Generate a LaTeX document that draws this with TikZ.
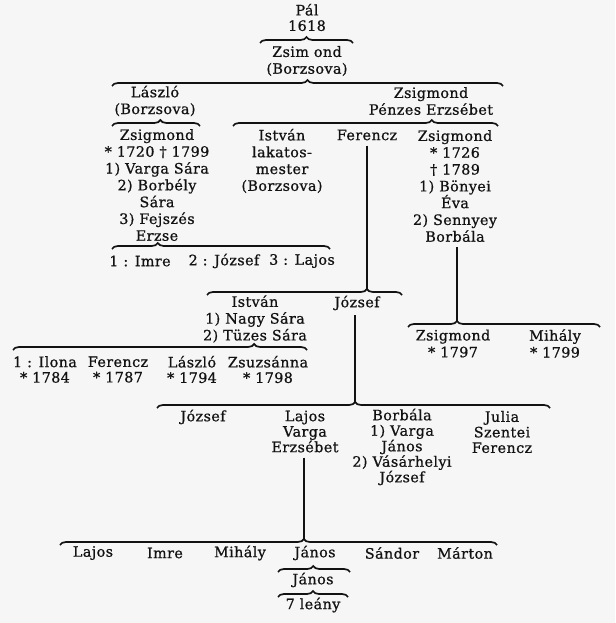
\documentclass[tikz,border=0pt]{standalone}
\usepackage{fontspec}
\setmainfont{DejaVu Serif}
\newfontfamily\oldtype{DejaVu Serif}[FakeBold=0.8,LetterSpace=3]
\usetikzlibrary{decorations.pathreplacing}
\definecolor{paper}{RGB}{246,246,246}
\definecolor{ink}{RGB}{18,18,18}
\begin{document}
\begin{tikzpicture}[x=1pt,y=-1pt,
  txt/.style={inner sep=0pt, align=center, font=\oldtype\fontsize{14.3}{15.5}\selectfont, text=ink},
  wide/.style={font=\oldtype\fontsize{14.3}{16.8}\selectfont},
  br/.style={draw=ink, line width=1.7pt, decorate, decoration={brace, amplitude=6pt, aspect=#1}},
  br/.default=0.5,
  stem/.style={draw=ink, line width=1.8pt, shorten <=5pt}]
\fill[paper] (0,0) rectangle (615,623);
\useasboundingbox (0,0) rectangle (615,623);

% top
\node[txt] (pal) at (307,17.5) {Pál\\1618};
\draw[br] (260,43) -- (353,43);
\node[txt,wide] (zsim) at (307,61) {Zsim ond\\(Borzsova)};
\draw[br] (112,86) -- (503,86);
\node[txt,wide] (laszlo) at (155,101) {László\\(Borzsova)};
\node[txt,wide] (zsig1) at (431,101) {Zsigmond\\Pénzes Erzsébet};

% second level
\draw[br=0.55] (112,126) -- (200,126);
\draw[br=0.75] (233,126) -- (498,126);
\node[txt,wide] (zsig2) at (157,185) {Zsigmond\\* 1720 † 1799\\1) Varga Sára\\2) Borbély\\Sára\\3) Fejszés\\Erzse};
\node[txt,wide] (istvan1) at (282,161) {István\\lakatos-\\mester\\(Borzsova)};
\node[txt] (ferencz1) at (367,135) {Ferencz};
\node[txt,wide] (zsig3) at (455,186) {Zsigmond\\* 1726\\† 1789\\1) Bönyei\\Éva\\2) Sennyey\\Borbála};

\draw[br=0.21] (112,249) -- (330,249);
\node[txt] (c1) at (140,261) {1 : Imre};
\node[txt] (c2) at (224,261) {2 : József};
\node[txt] (c3) at (302,261) {3 : Lajos};

% Ferencz branch
\coordinate (p6) at (367,289);
\draw[stem] (ferencz1.south) -- (p6);
\draw[br=0.82] (207,295) -- (402,295);
\node[txt,wide] (istvan2) at (255,319) {István\\1) Nagy Sára\\2) Tüzes Sára};
\node[txt] (jozsef1) at (357,303) {József};

\draw[br=0.82] (13,350) -- (307,350);
\node[txt] (ilona) at (45,369.5) {1 : Ilona\\* 1784};
\node[txt] (ferencz2) at (118,369.5) {Ferencz\\* 1787};
\node[txt] (laszlo2) at (192,369.5) {László\\* 1794};
\node[txt] (zsuzsanna) at (268,369.5) {Zsuzsánna\\* 1798};

% Zsigmond branch
\coordinate (p8) at (457,321);
\draw[stem] (zsig3.south -| p8) -- (p8);
\draw[br=0.255] (408,327) -- (600,327);
\node[txt,wide] (zsig4) at (453,343.5) {Zsigmond\\* 1797};
\node[txt,wide] (mihaly1) at (555,343.5) {Mihály\\* 1799};

% József branch
\coordinate (p9) at (355,402);
\draw[stem] (jozsef1.south -| p9) -- (p9);
\draw[br=0.504] (157,408) -- (550,408);
\node[txt] (jozsef2) at (203,417) {József};
\node[txt] (lajos1) at (305,431.5) {Lajos\\Varga\\Erzsébet};
\node[txt] (borbala) at (402,447) {Borbála\\1) Varga\\János\\2) Vásárhelyi\\József};
\node[txt] (julia) at (502,432) {Julia\\Szentei\\Ferencz};

% Lajos branch
\coordinate (p10) at (304,539);
\draw[stem] (lajos1.south -| p10) -- (p10);
\draw[br=0.558] (60,545) -- (497,545);
\node[txt] (lajos2) at (93,553) {Lajos};
\node[txt] (imre2) at (165,553) {Imre};
\node[txt] (mihaly2) at (240,553) {Mihály};
\node[txt] (janos1) at (315,553) {János};
\node[txt] (sandor) at (392,553) {Sándor};
\node[txt] (marton) at (465,553) {Márton};

\draw[br=0.49] (278,572) -- (350,572);
\node[txt] (janos2) at (313,580) {János};
\draw[br=0.5] (278,597) -- (348,597);
\node[txt] (leany) at (313,605) {7 leány};
\end{tikzpicture}
\end{document}
